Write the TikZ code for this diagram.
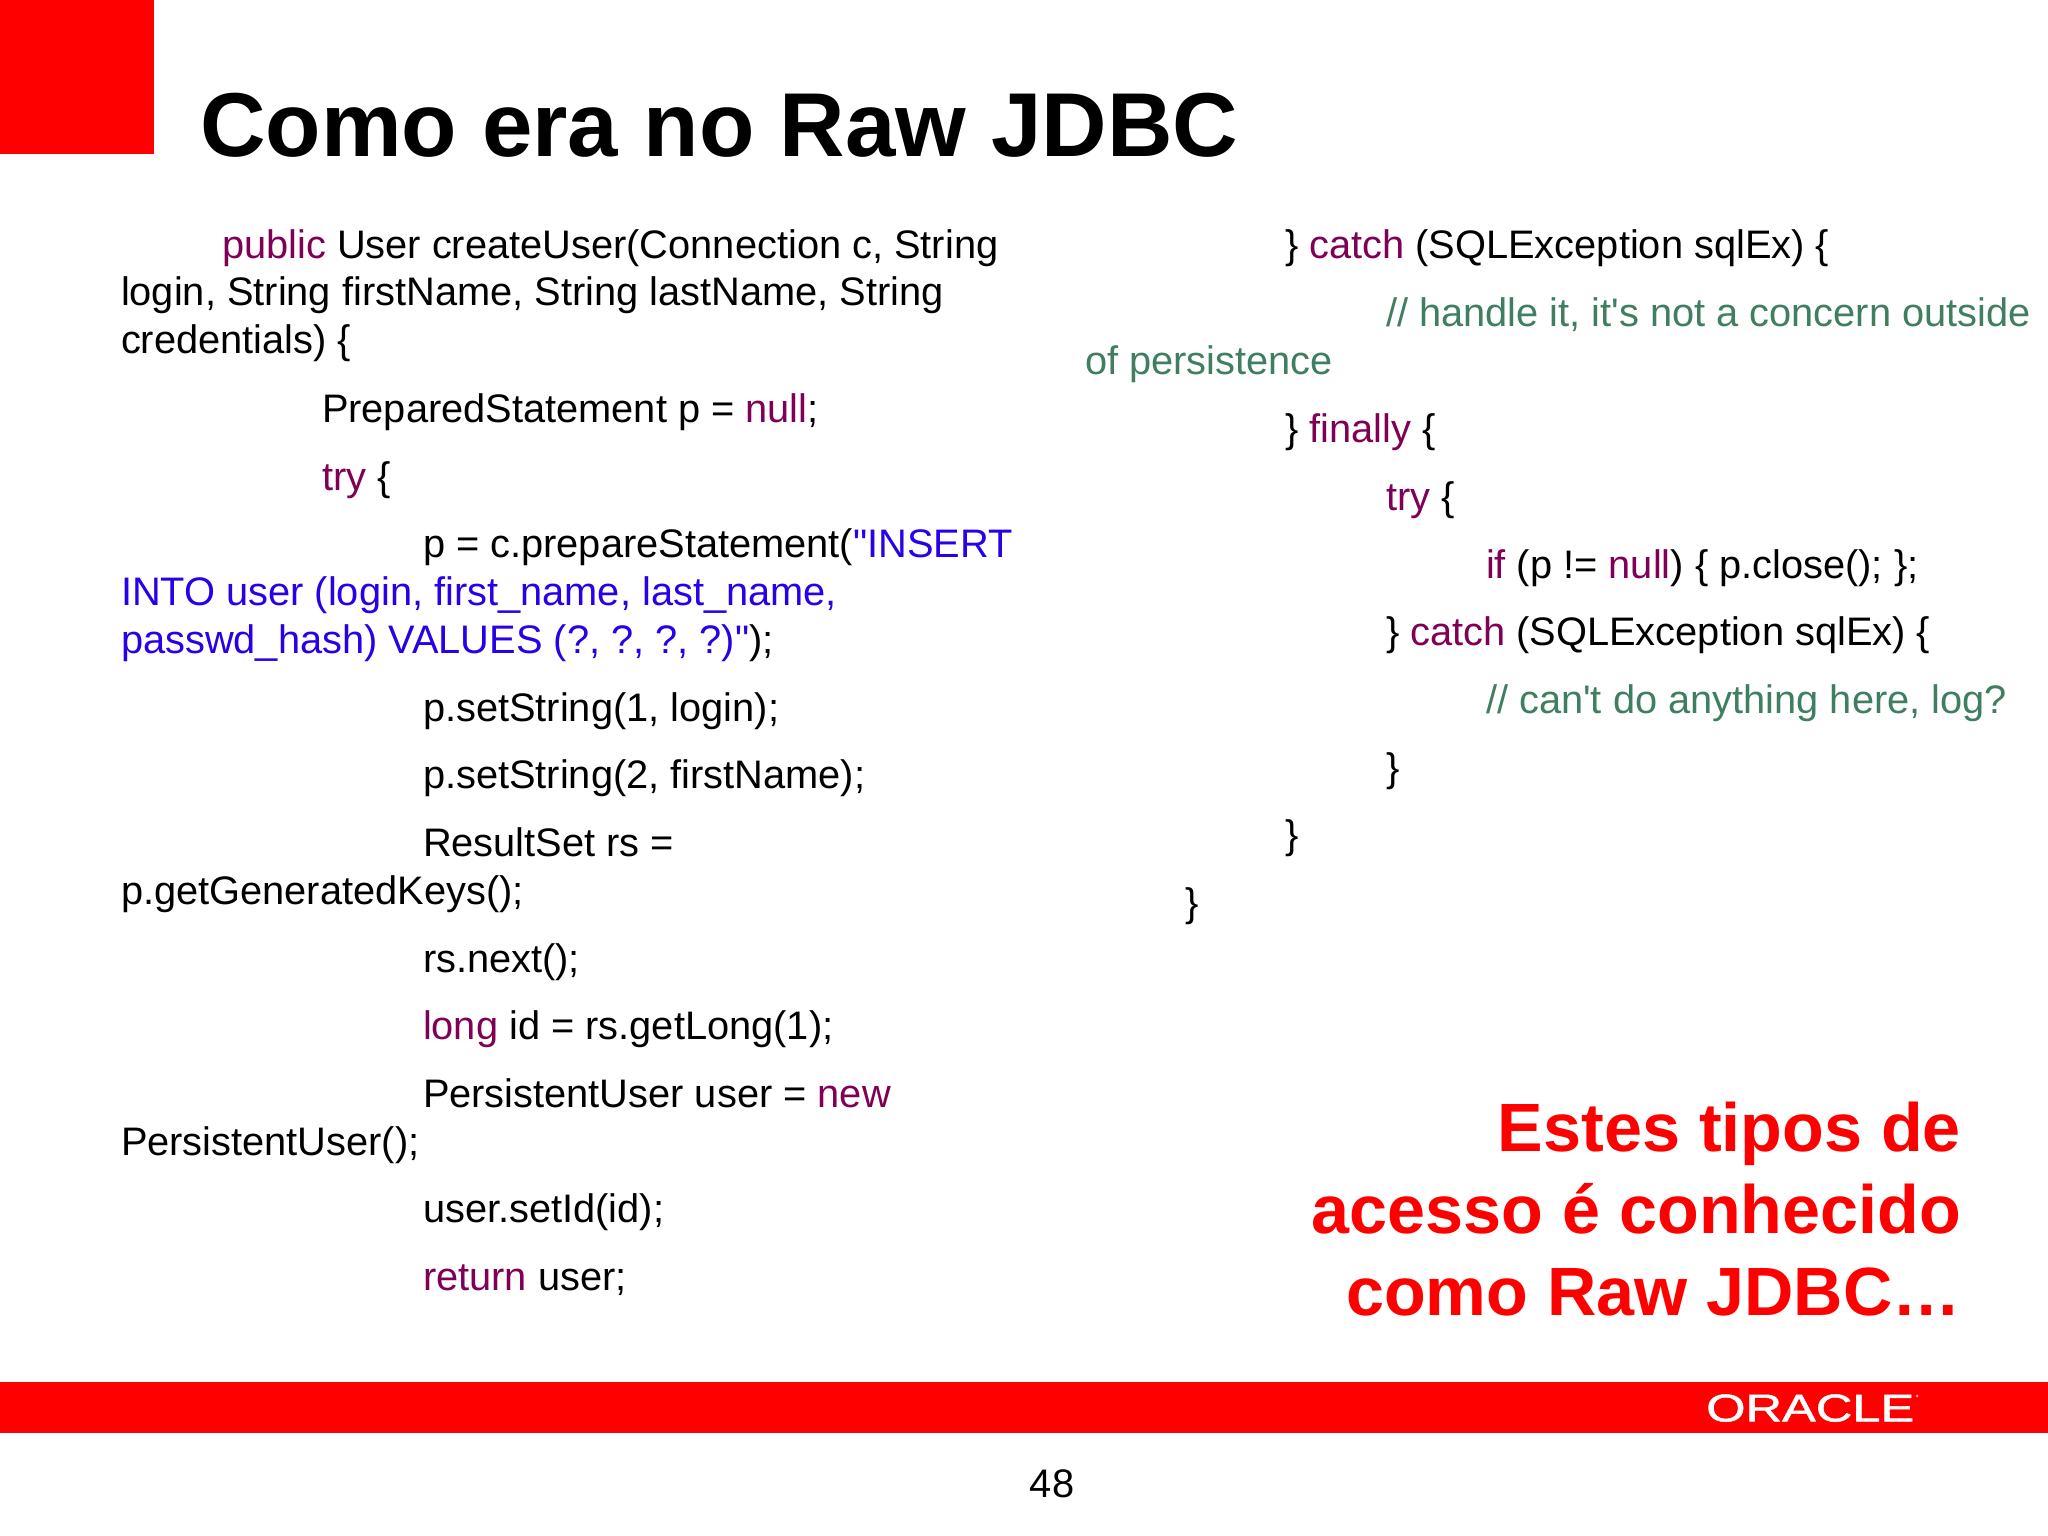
\documentclass[tikz,border=0pt]{standalone}
\usepackage{fontspec}
\usepackage{graphicx}
\newfontfamily\arial{Liberation Sans}
\newfontfamily\logofont[FakeBold=1.2]{Liberation Sans}
\definecolor{kw}{HTML}{7F0055}
\definecolor{cm}{HTML}{3F7F5F}
\definecolor{st}{HTML}{2A00E8}
\definecolor{brand}{HTML}{FF0000}
\newcommand{\kw}[1]{\textcolor{kw}{#1}}
\newcommand{\str}[1]{\textcolor{st}{#1}}
\tikzset{
  code/.style={anchor=base west,inner sep=0pt,outer sep=0pt,font=\arial\fontsize{39.8}{48}\selectfont},
  rcode/.style={code},
  cmt/.style={code,text=cm},
  note/.style={anchor=base east,inner sep=0pt,outer sep=0pt,text=brand,font=\arial\bfseries\fontsize{68.3}{83}\selectfont},
  brandbox/.style={fill=brand,draw=none}
}
\begin{document}
\begin{tikzpicture}[x=1pt,y=-1pt]
\useasboundingbox (0,0) rectangle (2048,1536);
\fill[white] (0,0) rectangle (2048,1536);
\fill[brandbox] (0,0) rectangle (154,154);
\fill[brandbox] (0,1382) rectangle (2048,1433);
\node[anchor=base west,inner sep=0pt,font=\arial\bfseries\fontsize{90.7}{100}\selectfont] (title) at (200,157) {Como era no Raw JDBC};
% left column
\node[code] (l1) at (222,258) {\kw{public} User createUser(Connection c, String};
\node[code] (l2) at (121,305) {login, String firstName, String lastName, String};
\node[code] (l3) at (121,353) {credentials) \{};
\node[code] (l4) at (322,422) {PreparedStatement p = \kw{null};};
\node[code] (l5) at (322,490) {\kw{try} \{};
\node[code] (l6) at (423,557) {p = c.prepareStatement(\str{"INSERT}};
\node[code] (l7) at (121,605) {\str{INTO user (login, first\_name, last\_name,}};
\node[code] (l8) at (121,653) {\str{passwd\_hash) VALUES (?, ?, ?, ?)"});};
\node[code] (l9) at (423,721) {p.setString(1, login);};
\node[code] (l10) at (423,788) {p.setString(2, firstName);};
\node[code] (l11) at (423,856) {ResultSet rs =};
\node[code] (l12) at (121,904) {p.getGeneratedKeys();};
\node[code] (l13) at (423,972) {rs.next();};
\node[code] (l14) at (423,1039) {\kw{long} id = rs.getLong(1);};
\node[code] (l15) at (423,1107) {PersistentUser user = \kw{new}};
\node[code] (l16) at (121,1155) {PersistentUser();};
\node[code] (l17) at (423,1222) {user.setId(id);};
\node[code] (l18) at (423,1290) {\kw{return} user;};
% right column
\node[rcode] (r1) at (1285,258) {\} \kw{catch} (SQLException sqlEx) \{};
\node[cmt] (r2) at (1386,326) {// handle it, it's not a concern outside};
\node[cmt] (r3) at (1085,374) {of persistence};
\node[rcode] (r4) at (1285,442) {\} \kw{finally} \{};
\node[rcode] (r5) at (1386,510) {\kw{try} \{};
\node[rcode] (r6) at (1486,578) {\kw{if} (p != \kw{null}) \{ p.close(); \};};
\node[rcode] (r7) at (1386,645) {\} \kw{catch} (SQLException sqlEx) \{};
\node[cmt] (r8) at (1486,713) {// can't do anything here, log?};
\node[rcode] (r9) at (1386,781) {\}};
\node[rcode] (r10) at (1285,848) {\}};
\node[rcode] (r11) at (1185,916) {\}};
% note
\node[note] (n1) at (1961,1151) {Estes tipos de};
\node[note] (n2) at (1961,1233) {acesso é conhecido};
\node[note] (n3) at (1961,1315) {como Raw JDBC…};
% logo
\node[anchor=south west,inner sep=0pt,text=white] (logo) at (1706,1422) {\resizebox{208pt}{27pt}{\logofont ORACLE}};
\fill[white,opacity=.6] (1917,1396) circle (1.5);
\node[code,anchor=base] (page) at (1052,1497) {48};
\end{tikzpicture}
\end{document}
